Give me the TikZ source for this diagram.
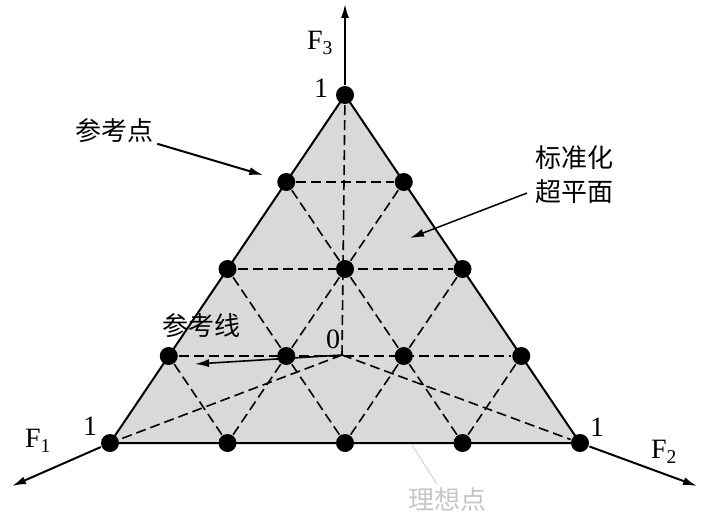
\documentclass[tikz,border=0pt]{standalone}
\usepackage{fontspec}
\setmainfont{Liberation Serif}
\newfontfamily\cjk{Noto Sans CJK SC}
\usetikzlibrary{positioning,arrows.meta}
\tikzset{dot/.style={circle,fill=black,inner sep=0pt,minimum size=18pt},
         grid/.style={dash pattern=on 10pt off 5pt,line width=1.6pt},
         tip/.style={-{Latex[length=14pt,width=8pt]}},
         lab/.style={font=\fontsize{28}{30}\selectfont},
         zh/.style={font=\cjk\fontsize{26}{34}\selectfont}}

\begin{document}
\begin{tikzpicture}[x=1pt,y=-1pt,line width=2pt]
    \useasboundingbox (0,0) rectangle (703,519);

    \coordinate (O) at (342,355); \coordinate (c1) at (110,443);
    \coordinate (c2) at (580,443); \coordinate (c3) at (345,95);
    \coordinate (X1) at (12,486); \coordinate (X2) at (697,486);
    \coordinate (X3) at (345,4);

    % hyperplane
    \filldraw[fill=gray!30] (c1) -- (c2) -- (c3) -- cycle;

    \node[dot] (A0) at (c1) {}; \node[dot] (A1) at (227.5,443) {};
    \node[dot] (A2) at (345,443) {}; \node[dot] (A3) at (462.5,443) {};
    \node[dot] (A4) at (c2) {};

    \node[dot] (B0) at (168.75,356) {}; \node[dot] (B1) at (286.25,356) {};
    \node[dot] (B2) at (403.75,356) {}; \node[dot] (B3) at (521.25,356) {};

    \node[dot] (C0) at (227.5,269) {}; \node[dot] (C1) at (345,269) {};
    \node[dot] (C2) at (462.5,269) {};

    \node[dot] (D0) at (286.25,182) {}; \node[dot] (D1) at (403.75,182) {};

    \node[dot] (E0) at (c3) {};

    \draw[grid] (B0) -- (B3); \draw[grid] (C0) -- (C2); \draw[grid] (D0) -- (D1);
    \draw[grid] (A1) -- (D1); \draw[grid] (A2) -- (C2); \draw[grid] (A3) -- (B3);
    \draw[grid] (A3) -- (D0); \draw[grid] (A2) -- (C0); \draw[grid] (A1) -- (B0);
    \draw[grid] (O) -- (A0); \draw[grid] (O) -- (A4); \draw[grid] (O) -- (E0);

    % axes
    \draw[tip] (E0) -- (X3); \draw[tip] (A0) -- (X1);
    \draw[tip] (A4) -- (X2);

    \node[lab] (f3) at (320,43) {F\textsubscript{3}};
    \node[lab] (f1) at (38,441) {F\textsubscript{1}};
    \node[lab] (f2) at (664,452) {F\textsubscript{2}};
    \node[lab] (one3) at (321,88) {1}; \node[lab] (one1) at (90,426) {1};
    \node[lab] (one2) at (597,427) {1}; \node[lab] (zero) at (333,339) {0};

    \node[zh] (refpt) at (114,131) {参考点};
    \draw[tip] (refpt) -- (D0) [shorten >=14pt];

    \node[zh,align=center] (hplane) at (574,175) {标准化\\超平面};
    \coordinate (hp) at (410,238);
    \draw[tip,line width=1.5pt] (hplane) -- (hp) [shorten <=4pt];

    \node[zh] (refln) at (201,326) {参考线};
    \coordinate (rl) at (195,364);
    \draw[tip,line width=1.6pt] (O) -- (rl);

    \node[zh,text=gray!45] (ideal) at (447,500) {理想点};
    \coordinate (ip) at (412,445);
    \draw[gray!35,line width=1pt] (ideal) -- (ip);
\end{tikzpicture}
\end{document}
